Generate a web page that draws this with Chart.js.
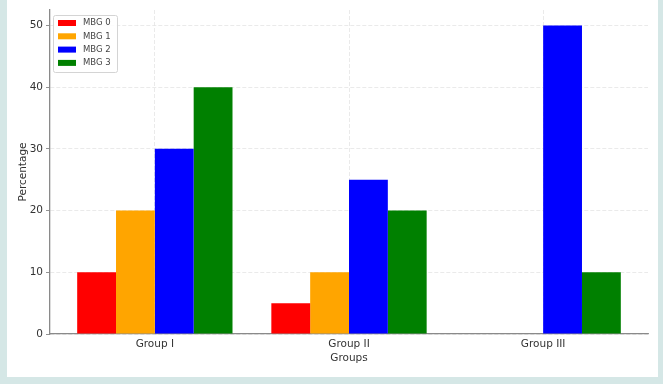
<!DOCTYPE html>
<html>
<head>
<meta charset="utf-8">
<script src="https://cdn.jsdelivr.net/npm/chart.js@4/dist/chart.umd.min.js"></script>
<style>
  html, body { margin: 0; padding: 0; background: #d5e7e6; }
  body { width: 663px; height: 384px; position: relative; overflow: hidden; }
  #panel { position: absolute; left: 7px; top: 0; width: 651px; height: 377px; background: #fff; }
</style>
</head>
<body>
<div id="panel"><canvas id="chart" width="651" height="377"></canvas></div>
<script>
// Grouped bars: share of each MBG class per group
const groups = ['Group I', 'Group II', 'Group III'];
const seriesNames = ['MBG 0', 'MBG 1', 'MBG 2', 'MBG 3'];
const mbg0 = [10, 5, 0];
const mbg1 = [20, 10, 0];
const mbg2 = [30, 25, 50];
const mbg3 = [40, 20, 10];
const yTicks = [0, 10, 20, 30, 40, 50];

const colors = ['#ff0000', '#ffa500', '#0000ff', '#008000'];
const FONT = 'DejaVu Sans';

const datasets = [mbg0, mbg1, mbg2, mbg3].map((vals, i) => ({
    label: seriesNames[i],
    data: vals.map((v, g) => ({ x: g, y: v })),
    backgroundColor: colors[i],
    borderWidth: 0,
    categoryPercentage: 0.8,
    barPercentage: 1.0,
}));

// legend box in the top-left corner of the plot, like matplotlib's
const boxLegend = {
    id: 'boxLegend',
    afterDraw(chart) {
        const { ctx, chartArea } = chart;
        const x0 = chartArea.left + 3, y0 = chartArea.top + 5;
        const w = 64, h = 57;
        ctx.save();
        ctx.fillStyle = 'rgba(255,255,255,0.85)';
        ctx.strokeStyle = '#d4d4d4';
        ctx.lineWidth = 1;
        ctx.beginPath();
        ctx.roundRect(x0 + 0.5, y0 + 0.5, w, h, 2);
        ctx.fill();
        ctx.stroke();
        ctx.font = '8.5px "' + FONT + '"';
        ctx.textBaseline = 'middle';
        chart.data.datasets.forEach((ds, i) => {
            const cy = y0 + 8 + i * 13.3;
            ctx.fillStyle = ds.backgroundColor;
            ctx.fillRect(x0 + 5, cy - 3, 18, 6);
            ctx.fillStyle = '#444';
            ctx.fillText(ds.label, x0 + 30, cy);
        });
        ctx.restore();
    }
};

new Chart(document.getElementById('chart'), {
    type: 'bar',
    data: { datasets },
    plugins: [boxLegend],
    options: {
        responsive: false,
        animation: false,
        layout: { padding: { top: 10, right: 10, left: 0, bottom: 0 } },
        plugins: {
            legend: { display: false },
            tooltip: { enabled: false },
        },
        scales: {
            x: {
                type: 'linear',
                min: -0.54,
                max: 2.54,
                bounds: 'data',
                offset: false,
                afterFit: (s) => { s.height = 43; },
                afterBuildTicks: (s) => { s.ticks = groups.map((g, i) => ({ value: i })); },
                grid: {
                    offset: false,
                    color: '#e4e4e4',
                    lineWidth: 0.8,
                    drawTicks: false,
                },
                border: { color: '#8a8a8a', width: 1.3, dash: [4, 2] },
                ticks: {
                    autoSkip: false,
                    maxRotation: 0,
                    padding: 4,
                    color: '#333',
                    font: { family: FONT, size: 10.5 },
                    callback: (v) => groups[Math.round(v)] ?? '',
                },
                title: {
                    display: true,
                    text: 'Groups',
                    color: '#333',
                    font: { family: FONT, size: 10.5 },
                    padding: { top: 0, bottom: 12 },
                },
            },
            y: {
                min: 0,
                max: 52.5,
                bounds: 'data',
                afterFit: (s) => { s.width = 43; },
                afterBuildTicks: (s) => { s.ticks = yTicks.map((v) => ({ value: v })); },
                grid: {
                    color: '#e4e4e4',
                    lineWidth: 0.8,
                    tickColor: '#777',
                    tickLength: 4,
                    tickBorderDash: [],
                },
                border: { color: '#8a8a8a', width: 1.3, dash: [4, 2] },
                ticks: {
                    padding: 3,
                    color: '#333',
                    font: { family: FONT, size: 10.5 },
                },
                title: {
                    display: true,
                    text: 'Percentage',
                    color: '#333',
                    font: { family: FONT, size: 10.5 },
                    padding: { top: 10, bottom: 0 },
                },
            },
        },
    },
});
</script>
</body>
</html>
